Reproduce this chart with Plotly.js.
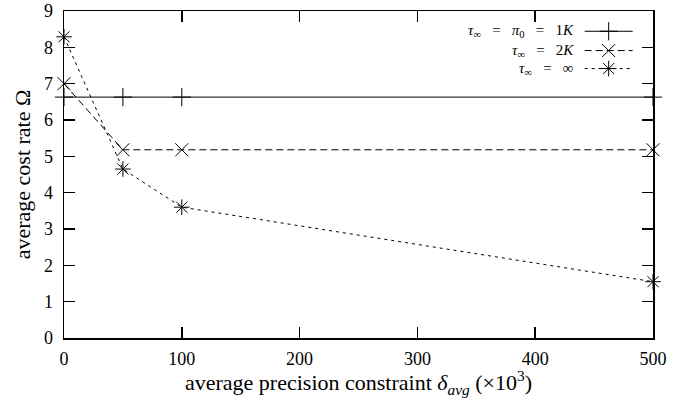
<!DOCTYPE html>
<html><head><meta charset="utf-8">
<script src="https://cdn.plot.ly/plotly-3.0.1.min.js"></script>
<style>body{margin:0;background:#fff}#c{width:687px;height:398px}</style>
</head><body><div id="c"></div>
<script>
const xVals = [0, 50, 100, 500];
const s1K = [6.63, 6.63, 6.63, 6.63];
const s2K = [7.0, 5.18, 5.18, 5.18];
const sInf = [8.29, 4.65, 3.6, 1.55];
const sp = '&nbsp;&nbsp;&nbsp;';
const seriesNames = [
  '<i>τ</i><sub>∞</sub>' + sp + '=' + sp + '<i>π</i><sub>0</sub>' + sp + '=' + sp + '1<i>K</i>',
  '<i>τ</i><sub>∞</sub>' + sp + '=' + sp + '2<i>K</i>',
  '<i>τ</i><sub>∞</sub>' + sp + '=' + sp + '∞'
];
const xTicks = [0, 100, 200, 300, 400, 500];
const yTicks = [0, 1, 2, 3, 4, 5, 6, 7, 8, 9];

const styles = [
  {dash: 'solid', symbol: 'cross-thin-open'},
  {dash: '7px,4px', symbol: 'x-thin-open'},
  {dash: '3px,4px', symbol: 'asterisk-open'}
];
const seriesY = [s1K, s2K, sInf];
const traces = [];
seriesY.forEach((ys, i) => {
  traces.push({
    x: xVals, y: ys, mode: 'lines+markers', name: seriesNames[i],
    cliponaxis: false, showlegend: false,
    line: {color: '#000', width: 1, dash: styles[i].dash},
    marker: {symbol: styles[i].symbol, size: 13, color: '#000', line: {color: '#000', width: 1}}
  });
});
// legend samples on an overlay axis
const legRowsY = [0.938, 0.879, 0.824];
const legX0 = 0.884, legX1 = 0.9655;
const annotations = [];
seriesY.forEach((ys, i) => {
  traces.push({
    x: [legX0, (legX0 + legX1) / 2, legX1], y: [legRowsY[i], legRowsY[i], legRowsY[i]],
    xaxis: 'x2', yaxis: 'y2', mode: 'lines', showlegend: false, hoverinfo: 'skip', cliponaxis: false,
    line: {color: '#000', width: 1, dash: styles[i].dash}
  });
  traces.push({
    x: [(legX0 + legX1) / 2], y: [legRowsY[i]],
    xaxis: 'x2', yaxis: 'y2', mode: 'markers', showlegend: false, hoverinfo: 'skip', cliponaxis: false,
    marker: {symbol: styles[i].symbol, size: 13, color: '#000', line: {color: '#000', width: 1}}
  });
  annotations.push({
    xref: 'paper', yref: 'paper', x: 0.868, y: legRowsY[i], xanchor: 'right', yanchor: 'middle',
    text: seriesNames[i], showarrow: false, borderpad: 0,
    font: {family: 'Liberation Serif', size: 15, color: '#000'}
  });
});

const layout = {
  width: 687, height: 398,
  margin: {l: 64, r: 34, t: 11, b: 60},
  paper_bgcolor: '#fff', plot_bgcolor: '#fff',
  font: {family: 'Liberation Serif', size: 18, color: '#000'},
  showlegend: false,
  xaxis: {
    range: [0, 500], tickvals: xTicks, ticks: 'inside', ticklen: 11, tickwidth: 1.5,
    tickcolor: '#000', showline: true, linecolor: '#000', linewidth: 1.5, mirror: 'ticks',
    showgrid: false, zeroline: false, tickfont: {size: 18}, ticklabelstandoff: 4,
    title: {text: 'average precision constraint <i>δ</i><sub><i>avg</i></sub> (×10<sup>3</sup>)', font: {size: 22}, standoff: 3}
  },
  yaxis: {
    range: [0, 9], tickvals: yTicks, ticks: 'inside', ticklen: 11, tickwidth: 1.5,
    tickcolor: '#000', showline: true, linecolor: '#000', linewidth: 1.5, mirror: 'ticks',
    showgrid: false, zeroline: false, tickfont: {size: 18}, ticklabelstandoff: 6,
    title: {text: 'average cost rate Ω', font: {size: 22}, standoff: 7}
  },
  xaxis2: {overlaying: 'x', range: [0, 1], visible: false, fixedrange: true},
  yaxis2: {overlaying: 'y', range: [0, 1], visible: false, fixedrange: true},
  annotations: annotations
};
Plotly.newPlot('c', traces, layout, {displayModeBar: false, staticPlot: true});
</script></body></html>
